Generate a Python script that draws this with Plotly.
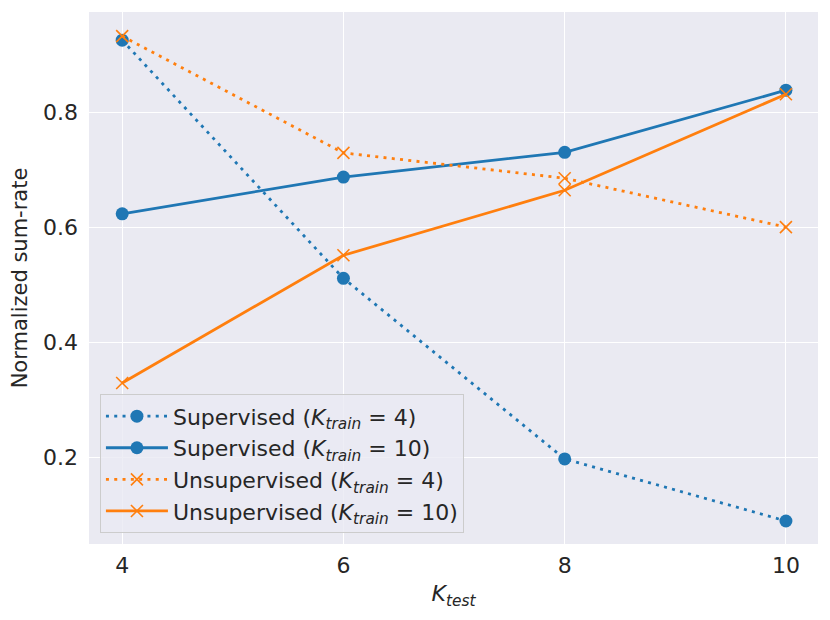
import plotly.graph_objects as go

# K_test values on the x axis
k_test = [4, 6, 8, 10]

# normalized sum-rate
sup_k4 = [0.925, 0.511, 0.197, 0.089]
sup_k10 = [0.623, 0.687, 0.730, 0.838]
unsup_k4 = [0.932, 0.729, 0.685, 0.600]
unsup_k10 = [0.329, 0.551, 0.664, 0.831]

BLUE = '#1f77b4'
ORANGE = '#ff7f0e'
DOTTED = '3px,5.3px'  # matplotlib-like ':' pattern

series = [
    ('Supervised (<i>K<sub>train</sub></i> = 4)', sup_k4, BLUE, DOTTED, 'circle'),
    ('Supervised (<i>K<sub>train</sub></i> = 10)', sup_k10, BLUE, 'solid', 'circle'),
    ('Unsupervised (<i>K<sub>train</sub></i> = 4)', unsup_k4, ORANGE, DOTTED, 'x-thin'),
    ('Unsupervised (<i>K<sub>train</sub></i> = 10)', unsup_k10, ORANGE, 'solid', 'x-thin'),
]

fig = go.Figure()
for name, vals, color, dash, symbol in series:
    is_x = symbol == 'x-thin'
    fig.add_trace(go.Scatter(
        x=k_test, y=vals, name=name, mode='lines+markers',
        line=dict(color=color, width=2.8, dash=dash),
        marker=dict(symbol=symbol, size=12 if is_x else 13, color=color,
                    line=dict(color=color, width=1.6 if is_x else 0)),
    ))

# the page body adds an 8px offset, so margins are shifted to compensate
fig.update_layout(
    width=830, height=620,
    paper_bgcolor='white', plot_bgcolor='#EAEAF2',
    font=dict(family='DejaVu Sans', size=22, color='#262626'),
    margin=dict(l=81, r=20, t=4, b=84),
    showlegend=True,
    legend=dict(
        x=0.015, y=0.02, xanchor='left', yanchor='bottom',
        bgcolor='rgba(234,234,242,0.8)', bordercolor='#CCCCCC', borderwidth=1,
        font=dict(size=22), tracegroupgap=0, itemwidth=62,
    ),
    xaxis=dict(
        range=[3.70, 10.29], tickvals=k_test, ticktext=['4', '6', '8', '10'],
        showgrid=True, gridcolor='white', gridwidth=1.2, zeroline=False,
        ticks='', showline=False, automargin=False, ticklabelstandoff=6,
        title=dict(text='<i>K<sub>test</sub></i>', font=dict(size=22), standoff=8),
    ),
    yaxis=dict(
        range=[0.049, 0.974], tickvals=[0.2, 0.4, 0.6, 0.8],
        ticktext=['0.2', '0.4', '0.6', '0.8'],
        showgrid=True, gridcolor='white', gridwidth=1.2, zeroline=False,
        ticks='', showline=False, automargin=False, ticklabelstandoff=10,
        title=dict(text='Normalized sum-rate', font=dict(size=21), standoff=10),
    ),
)

fig.write_html('out.html')
